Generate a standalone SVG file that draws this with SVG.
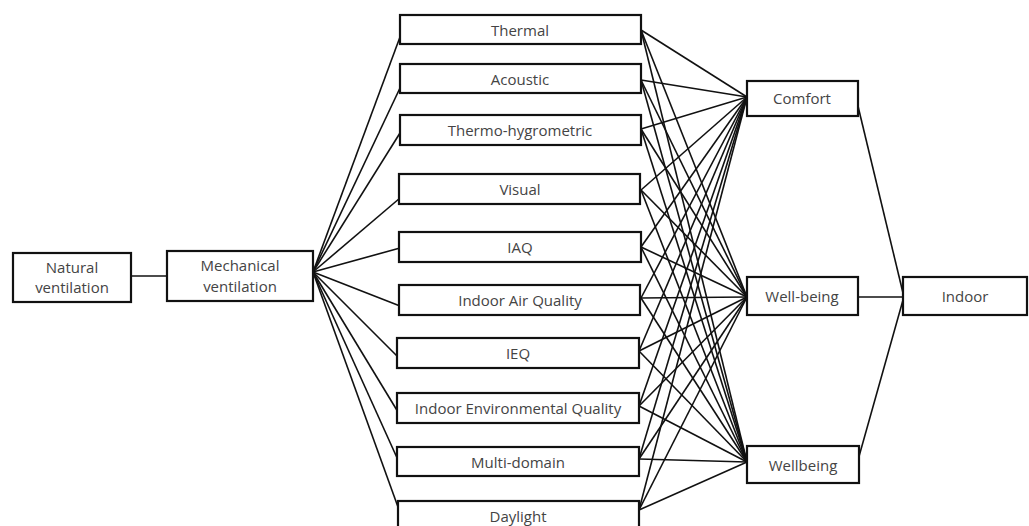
<svg xmlns="http://www.w3.org/2000/svg" width="1029" height="526" viewBox="0 0 1029 526">
<style>
.box{fill:#fff;stroke:#111;stroke-width:2.2}
.t{font-family:"Open Sans","Liberation Sans",sans-serif;font-size:15px;fill:#444;text-anchor:middle;dominant-baseline:central}
.c line{stroke:#111;stroke-width:1.6}
</style>
<rect width="1029" height="526" fill="#fff"/>
<g class="c" id="connectors">
<line x1="131" y1="276" x2="167" y2="276"/>
<line x1="313" y1="272" x2="400" y2="37"/>
<line x1="313" y1="272" x2="400" y2="88"/>
<line x1="313" y1="272" x2="400" y2="133"/>
<line x1="313" y1="272" x2="400" y2="198"/>
<line x1="313" y1="272" x2="400" y2="248"/>
<line x1="313" y1="272" x2="400" y2="306"/>
<line x1="313" y1="272" x2="398" y2="357"/>
<line x1="313" y1="272" x2="398" y2="412"/>
<line x1="313" y1="272" x2="398" y2="460"/>
<line x1="313" y1="272" x2="398" y2="507"/>
<line x1="641" y1="30" x2="747" y2="97"/><line x1="641" y1="30" x2="747" y2="297"/><line x1="641" y1="30" x2="747" y2="462"/>
<line x1="641" y1="80" x2="747" y2="97"/><line x1="641" y1="80" x2="747" y2="297"/><line x1="641" y1="80" x2="747" y2="462"/>
<line x1="641" y1="129" x2="747" y2="97"/><line x1="641" y1="129" x2="747" y2="297"/><line x1="641" y1="129" x2="747" y2="462"/>
<line x1="641" y1="190" x2="747" y2="97"/><line x1="641" y1="190" x2="747" y2="297"/><line x1="641" y1="190" x2="747" y2="462"/>
<line x1="641" y1="247" x2="747" y2="97"/><line x1="641" y1="247" x2="747" y2="297"/><line x1="641" y1="247" x2="747" y2="462"/>
<line x1="641" y1="298" x2="747" y2="97"/><line x1="641" y1="298" x2="747" y2="297"/><line x1="641" y1="298" x2="747" y2="462"/>
<line x1="639" y1="351" x2="747" y2="97"/><line x1="639" y1="351" x2="747" y2="297"/><line x1="639" y1="351" x2="747" y2="462"/>
<line x1="639" y1="406" x2="747" y2="97"/><line x1="639" y1="406" x2="747" y2="297"/><line x1="639" y1="406" x2="747" y2="462"/>
<line x1="639" y1="459" x2="747" y2="97"/><line x1="639" y1="459" x2="747" y2="297"/><line x1="639" y1="459" x2="747" y2="462"/>
<line x1="639" y1="510" x2="747" y2="97"/><line x1="639" y1="510" x2="747" y2="297"/><line x1="639" y1="510" x2="747" y2="462"/>
<line x1="857" y1="102" x2="903" y2="293"/>
<line x1="858" y1="297" x2="903" y2="297"/>
<line x1="858" y1="460" x2="903" y2="300"/>
</g>
<g id="natural"><rect class="box" x="13" y="253" width="118" height="49"/><text class="t" x="72" y="267">Natural</text><text class="t" x="72" y="287">ventilation</text></g>
<g id="mechanical"><rect class="box" x="167" y="251" width="146" height="50"/><text class="t" x="240" y="265">Mechanical</text><text class="t" x="240" y="286">ventilation</text></g>
<g id="thermal"><rect class="box" x="400" y="15" width="241" height="29"/><text class="t" x="520" y="30">Thermal</text></g>
<g id="acoustic"><rect class="box" x="400" y="64" width="241" height="29"/><text class="t" x="520" y="79">Acoustic</text></g>
<g id="thermohyg"><rect class="box" x="400" y="115" width="241" height="30"/><text class="t" x="520" y="130">Thermo-hygrometric</text></g>
<g id="visual"><rect class="box" x="399" y="174" width="241" height="30"/><text class="t" x="520" y="189">Visual</text></g>
<g id="iaq"><rect class="box" x="399" y="232" width="242" height="30"/><text class="t" x="520" y="247">IAQ</text></g>
<g id="indoorair"><rect class="box" x="399" y="285" width="241" height="30"/><text class="t" x="520" y="300">Indoor Air Quality</text></g>
<g id="ieq"><rect class="box" x="397" y="338" width="242" height="30"/><text class="t" x="518" y="353">IEQ</text></g>
<g id="indoorenv"><rect class="box" x="397" y="393" width="242" height="30"/><text class="t" x="518" y="408">Indoor Environmental Quality</text></g>
<g id="multidomain"><rect class="box" x="397" y="447" width="242" height="29"/><text class="t" x="518" y="462">Multi-domain</text></g>
<g id="daylight"><rect class="box" x="398" y="501" width="241" height="35"/><text class="t" x="518" y="516">Daylight</text></g>
<g id="comfort"><rect class="box" x="747" y="81" width="111" height="35"/><text class="t" x="802" y="98">Comfort</text></g>
<g id="wellbeing1"><rect class="box" x="747" y="277" width="111" height="38"/><text class="t" x="802" y="296">Well-being</text></g>
<g id="wellbeing2"><rect class="box" x="747" y="446" width="112" height="37"/><text class="t" x="803" y="465">Wellbeing</text></g>
<g id="indoor"><rect class="box" x="903" y="277" width="124" height="38"/><text class="t" x="965" y="296">Indoor</text></g>
</svg>
